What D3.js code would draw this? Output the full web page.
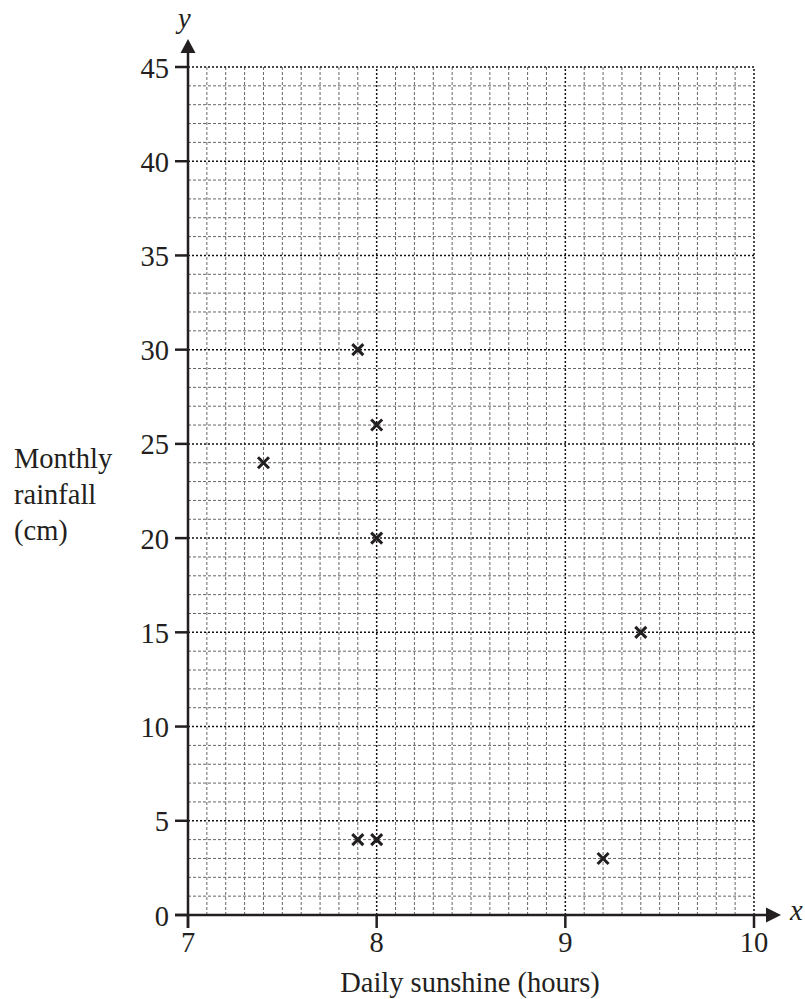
<!DOCTYPE html>
<html>
<head>
<meta charset="utf-8">
<script src="https://cdn.jsdelivr.net/npm/d3@7"></script>
<style>
  body { margin: 0; background: #fff; }
</style>
</head>
<body>
<div id="chart"></div>
<script>
// data
const sunshine = [7.4, 7.9, 8.0, 8.0, 9.4, 7.9, 8.0, 9.2]
const rainfall = [24, 30, 26, 20, 15, 4, 4, 3]
const xTicks = [7, 8, 9, 10]
const yTicks = [0, 5, 10, 15, 20, 25, 30, 35, 40, 45]
const yLabelLines = ["Monthly", "rainfall", "(cm)"]

const W = 805, H = 999
const margin = { top: 67, right: 51, bottom: 84, left: 188 }
const FONT = "Liberation Serif"
const FS = 28.5
const ink = "#231f20"

const svg = d3.select("#chart").append("svg")
  .attr("width", W).attr("height", H)

const x = d3.scaleLinear().domain([7, 10]).range([margin.left, W - margin.right])
const y = d3.scaleLinear().domain([0, 45]).range([H - margin.bottom, margin.top])

// grid
const grid = svg.append("g")
const xMinor = d3.range(71, 101).map(d => d / 10)
const yMinor = d3.range(1, 46)
const isMajX = d => Math.abs(d - Math.round(d)) < 1e-6

grid.selectAll(".vx").data(xMinor).enter().append("line")
  .attr("x1", d => x(d)).attr("x2", d => x(d))
  .attr("y1", y(0)).attr("y2", y(45))
  .attr("stroke", d => isMajX(d) ? "#111" : "#666")
  .attr("stroke-width", d => isMajX(d) ? 1.5 : 1)
  .attr("stroke-dasharray", d => isMajX(d) ? "2,2" : "3,2")

grid.selectAll(".hy").data(yMinor).enter().append("line")
  .attr("x1", x(7)).attr("x2", x(10))
  .attr("y1", d => y(d)).attr("y2", d => y(d))
  .attr("stroke", d => d % 5 === 0 ? "#111" : "#666")
  .attr("stroke-width", d => d % 5 === 0 ? 1.5 : 1)
  .attr("stroke-dasharray", d => d % 5 === 0 ? "2,2" : "3,2")

// axes
svg.append("line")
  .attr("x1", x(7) - 13).attr("x2", x(10) + 14)
  .attr("y1", y(0)).attr("y2", y(0))
  .attr("stroke", ink).attr("stroke-width", 2.5)
svg.append("line")
  .attr("x1", x(7)).attr("x2", x(7))
  .attr("y1", y(0) + 13).attr("y2", y(45) - 16)
  .attr("stroke", ink).attr("stroke-width", 2.5)

// arrowheads
const ax = x(10) + 12, ay = y(0)
svg.append("path")
  .attr("d", `M${ax},${ay - 7.5}L${ax + 15},${ay}L${ax},${ay + 7.5}Z`)
  .attr("fill", ink)
const bx = x(7), by = 53
svg.append("path")
  .attr("d", `M${bx - 7.5},${by}L${bx},${by - 14}L${bx + 7.5},${by}Z`)
  .attr("fill", ink)

svg.append("text").attr("x", 790).attr("y", 920)
  .attr("font-family", FONT).attr("font-size", FS).attr("font-style", "italic")
  .attr("fill", ink).text("x")
svg.append("text").attr("x", 178).attr("y", 28)
  .attr("font-family", FONT).attr("font-size", FS).attr("font-style", "italic")
  .attr("fill", ink).text("y")

// ticks
svg.selectAll(".xt").data(xTicks).enter().append("line")
  .attr("x1", d => x(d)).attr("x2", d => x(d))
  .attr("y1", y(0)).attr("y2", y(0) + 13)
  .attr("stroke", ink).attr("stroke-width", 2.5)
svg.selectAll(".xl").data(xTicks).enter().append("text")
  .attr("x", d => x(d)).attr("y", 952)
  .attr("text-anchor", "middle")
  .attr("font-family", FONT).attr("font-size", FS)
  .attr("fill", ink)
  .text(d => d)

svg.selectAll(".yt").data(yTicks).enter().append("line")
  .attr("x1", x(7) - 13).attr("x2", x(7))
  .attr("y1", d => y(d)).attr("y2", d => y(d))
  .attr("stroke", ink).attr("stroke-width", 2.5)
svg.selectAll(".yl").data(yTicks).enter().append("text")
  .attr("x", 169).attr("y", d => y(d) + 10.5)
  .attr("text-anchor", "end")
  .attr("font-family", FONT).attr("font-size", FS)
  .attr("fill", ink)
  .text(d => d)

// axis titles
svg.append("text")
  .attr("x", 470).attr("y", 992)
  .attr("text-anchor", "middle")
  .attr("font-family", FONT).attr("font-size", FS)
  .attr("fill", ink)
  .text("Daily sunshine (hours)")

svg.selectAll(".ylab").data(yLabelLines).enter().append("text")
  .attr("x", 14).attr("y", (d, i) => 468 + i * 36)
  .attr("font-family", FONT).attr("font-size", FS)
  .attr("fill", ink)
  .text(d => d)

// crosses
const s = 5.5
const pts = sunshine.map((d, i) => ({ sx: d, ry: rainfall[i] }))
svg.selectAll(".pt").data(pts).enter().append("path")
  .attr("d", d => {
    const cx = x(d.sx), cy = y(d.ry)
    return `M${cx - s},${cy - s}L${cx + s},${cy + s}M${cx - s},${cy + s}L${cx + s},${cy - s}`
  })
  .attr("stroke", ink).attr("stroke-width", 3).attr("fill", "none")
</script>
</body>
</html>
